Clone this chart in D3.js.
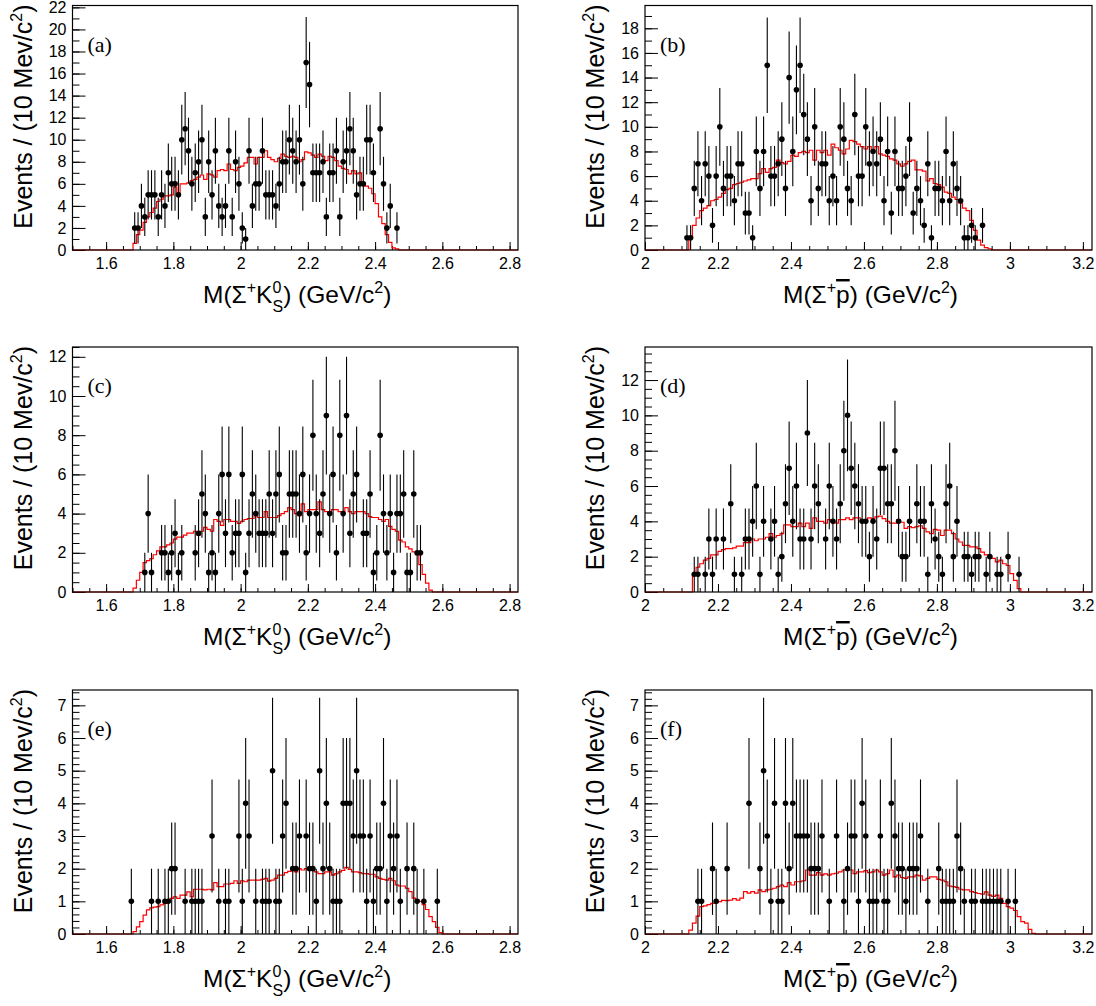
<!DOCTYPE html>
<html><head><meta charset="utf-8">
<script src="https://cdn.jsdelivr.net/npm/d3@7/dist/d3.min.js"></script>
<style>
body{margin:0;background:#fff}
svg{display:block}
</style>
</head><body>
<svg id="chart" width="1096" height="1006"></svg>
<script>
// ---------------- DATA ----------------
const binWidth = 0.01;

// x tick labels
const xTicksKS = [1.6, 1.8, 2.0, 2.2, 2.4, 2.6, 2.8];
const xTicksPP = [2.0, 2.2, 2.4, 2.6, 2.8, 3.0, 3.2];
const xDomainKS = [1.5, 2.825];
const xDomainPP = [2.0, 3.225];
const yTicksA = [0,2,4,6,8,10,12,14,16,18,20,22];
const yTicksB = [0,2,4,6,8,10,12,14,16,18];
const yTicksC = [0,2,4,6,8,10,12];
const yTicksD = [0,2,4,6,8,10,12];
const yTicksE = [0,1,2,3,4,5,6,7];
const yTicksF = [0,1,2,3,4,5,6,7];

// (a) data
const aMass = [1.685,1.695,1.705,1.715,1.725,1.735,1.745,1.755,1.765,1.775,
  1.785,1.795,1.805,1.815,1.825,1.835,1.845,1.855,1.865,1.875,
  1.885,1.895,1.905,1.915,1.925,1.935,1.945,1.955,1.965,1.975,
  1.985,1.995,2.005,2.015,2.025,2.035,2.045,2.055,2.065,2.075,
  2.085,2.095,2.105,2.115,2.125,2.135,2.145,2.155,2.165,2.175,
  2.185,2.195,2.205,2.215,2.225,2.235,2.245,2.255,2.265,2.275,
  2.285,2.295,2.305,2.315,2.325,2.335,2.345,2.355,2.365,2.375,
  2.385,2.395,2.415,2.425,2.435,2.445,2.465];
const aCounts = [2,2,4,3,5,5,5,3,5,4,
  7,6,6,5,10,11,9,6,7,8,
  10,3,8,5,9,4,3,4,9,3,
  8,6,2,1,9,4,6,6,9,5,
  5,5,4,6,8,8,10,9,8,10,
  6,17,15,7,7,7,8,3,7,7,
  9,3,8,9,11,9,5,6,6,10,
  10,7,11,6,2,4,2];
const aMcStart = 1.68;
const aMc = [0.6,1.4,1.8,2.5,3.0,3.4,3.8,4.4,4.6,4.9,
  4.9,5.0,5.7,5.2,6.0,6.0,6.1,6.3,6.4,6.6,
  6.8,6.4,6.9,6.8,6.6,7.2,7.3,7.2,7.8,7.3,
  7.2,7.5,7.6,7.9,8.4,8.4,7.8,8.4,8.4,9.0,
  8.4,8.2,8.0,8.3,8.7,8.5,8.4,8.5,8.4,8.0,
  8.2,8.9,8.8,8.6,8.4,8.7,8.5,8.1,8.5,8.4,
  8.1,7.6,7.4,7.3,6.9,7.2,6.9,7.0,6.1,5.8,
  5.6,5.1,4.2,3.0,2.4,1.4,0.7,0.2,0.1];

// (b) data
const bMass = [2.115,2.125,2.135,2.145,2.155,2.165,2.175,2.185,2.195,2.205,
  2.215,2.225,2.235,2.245,2.255,2.265,2.275,2.285,2.295,2.305,
  2.315,2.325,2.335,2.345,2.355,2.365,2.375,2.385,2.395,2.405,
  2.415,2.425,2.435,2.445,2.455,2.465,2.475,2.485,2.495,2.505,
  2.515,2.525,2.535,2.545,2.555,2.565,2.575,2.585,2.595,2.605,
  2.615,2.625,2.635,2.645,2.655,2.665,2.675,2.685,2.695,2.705,
  2.715,2.725,2.735,2.745,2.755,2.765,2.775,2.785,2.795,2.805,
  2.815,2.825,2.835,2.845,2.855,2.865,2.875,2.885,2.895,2.905,2.925];
const bCounts = [1,1,5,7,4,7,6,2,6,10,
  5,6,6,4,7,7,3,3,1,8,
  5,8,15,6,6,7,9,5,14,8,
  13,15,11,9,4,10,5,7,7,4,
  6,4,10,9,5,4,11,6,6,10,
  7,8,7,9,4,8,3,8,5,5,
  6,9,3,5,4,2,7,1,5,5,
  4,8,4,7,5,4,1,1,2,1,2];
const bMcStart = 2.12;
const bMc = [1.0,2.0,2.6,3.2,3.4,3.6,4.0,4.1,4.3,4.6,
  4.9,5.0,5.3,5.4,5.5,5.6,5.7,5.8,5.8,6.2,
  6.6,6.3,6.6,6.7,7.3,7.1,7.0,7.2,7.7,7.6,
  7.9,8.0,7.9,8.1,7.3,8.1,7.9,8.1,7.7,8.6,
  8.3,8.1,7.8,8.2,8.9,8.8,8.6,8.4,8.2,8.4,
  8.1,8.4,7.8,7.7,7.6,7.4,7.3,7.0,6.8,7.0,
  7.2,7.3,6.5,6.5,6.4,5.6,5.8,5.4,5.3,5.1,
  4.7,4.6,4.3,4.1,3.8,3.4,3.2,2.4,1.6,0.8,
  0.4,0.2,0.1];

// (c) data
const cMass = [1.715,1.725,1.735,1.765,1.775,1.785,1.795,1.805,1.815,1.825,
  1.865,1.875,1.885,1.895,1.905,1.915,1.925,1.935,1.945,1.955,
  1.965,1.975,1.985,1.995,2.005,2.015,2.025,2.035,2.045,2.055,
  2.065,2.075,2.085,2.095,2.105,2.115,2.125,2.135,2.145,2.155,
  2.165,2.175,2.185,2.195,2.205,2.215,2.225,2.235,2.245,2.255,
  2.265,2.275,2.285,2.295,2.305,2.315,2.325,2.335,2.345,2.365,
  2.375,2.385,2.395,2.405,2.415,2.425,2.435,2.445,2.455,2.465,
  2.475,2.485,2.495,2.505,2.515,2.525,2.535];
const cCounts = [1,4,1,2,2,1,2,3,1,2,
  2,3,5,4,1,2,1,4,6,3,
  6,2,3,3,6,1,3,5,4,3,
  3,3,5,3,5,6,2,2,5,5,
  5,4,6,2,4,8,4,3,5,9,
  4,6,2,8,4,9,3,5,6,3,
  3,5,1,2,8,4,2,4,1,4,
  4,5,1,1,5,2,2];
const cMcStart = 1.68;
const cMc = [0.2,0.6,1.0,1.5,1.6,1.7,1.9,2.1,2.3,2.3,
  2.4,2.5,2.7,2.8,2.8,2.9,3.0,3.0,3.1,2.9,
  3.1,3.3,3.2,3.1,3.7,3.6,3.4,3.7,3.7,3.6,
  3.6,3.5,3.6,3.7,3.75,3.75,3.9,3.8,3.8,4.1,
  3.8,3.8,3.8,3.9,4.0,4.1,4.3,4.2,4.0,3.9,
  4.5,4.1,4.2,4.2,4.2,4.6,4.2,4.1,4.0,4.2,
  4.2,4.1,4.1,4.3,4.1,4.0,4.1,4.1,4.1,4.0,
  3.85,3.8,3.8,3.7,3.6,3.7,3.35,3.2,3.1,2.65,
  2.55,2.3,2.2,2.05,1.9,1.4,0.9,0.45,0.1];

// (d) data
const dMass = [2.135,2.145,2.165,2.175,2.185,2.195,2.215,2.235,2.245,2.265,
  2.275,2.285,2.295,2.305,2.315,2.325,2.345,2.355,2.365,2.375,
  2.385,2.395,2.405,2.415,2.425,2.435,2.445,2.455,2.465,2.475,
  2.495,2.505,2.515,2.525,2.535,2.545,2.555,2.565,2.575,2.585,
  2.595,2.605,2.615,2.625,2.635,2.645,2.655,2.665,2.675,2.685,
  2.695,2.705,2.715,2.725,2.745,2.755,2.765,2.775,2.785,2.795,
  2.805,2.815,2.825,2.835,2.845,2.855,2.875,2.885,2.895,2.905,
  2.915,2.935,2.945,2.965,2.975,2.995,3.025];
const dCounts = [1,1,1,3,1,3,3,5,1,1,
  3,3,4,6,1,4,3,4,1,2,
  5,7,4,6,3,3,9,3,6,5,
  3,6,4,3,5,8,10,7,6,5,
  4,4,2,4,3,7,7,5,5,8,
  4,2,2,4,5,4,4,1,5,3,
  2,1,5,6,2,4,2,2,1,2,
  2,1,2,1,1,2,1];
const dMcStart = 2.13;
const dMc = [0.95,1.4,1.6,1.8,1.9,2.1,2.1,2.3,2.4,2.45,
  2.45,2.5,2.6,2.6,2.8,2.8,3.0,2.9,3.0,3.0,
  3.1,3.3,3.1,3.2,3.3,3.8,3.8,3.7,3.7,3.9,
  3.7,3.9,3.6,4.2,4.0,4.0,3.9,4.1,4.0,3.9,
  4.1,4.1,4.2,4.1,4.2,4.2,4.05,4.0,4.2,4.15,
  4.25,4.3,4.15,4.0,3.9,3.9,4.1,3.95,3.6,3.7,
  3.65,3.7,3.75,3.6,3.4,3.3,3.55,3.5,3.2,3.5,
  3.5,3.3,3.0,2.83,2.64,2.64,2.55,2.55,2.45,2.26,
  2.1,2.04,1.9,1.7,1.8,1.6,1.5,1.04,0.66,0.19];

// (e) data
const eMass = [1.675,1.735,1.755,1.775,1.785,1.795,1.805,1.835,1.855,1.865,
  1.875,1.885,1.915,1.935,1.955,1.965,1.995,2.005,2.015,2.025,
  2.045,2.065,2.075,2.085,2.095,2.105,2.115,2.125,2.135,2.155,
  2.165,2.175,2.195,2.205,2.215,2.225,2.235,2.245,2.255,2.265,
  2.275,2.285,2.295,2.305,2.315,2.325,2.335,2.345,2.355,2.365,
  2.375,2.385,2.395,2.405,2.415,2.425,2.435,2.445,2.455,2.465,
  2.475,2.495,2.515,2.525,2.545,2.585];
const eCounts = [1,1,1,1,1,2,2,1,1,1,
  1,1,3,1,1,1,3,1,4,3,
  1,1,1,1,5,1,1,3,4,2,
  2,3,3,2,2,1,5,2,4,2,
  1,1,1,4,4,4,3,5,3,3,
  1,3,1,2,2,4,1,3,2,3,
  1,2,2,1,1,1];
const eMcStart = 1.68;
const eMc = [0.07,0.22,0.38,0.58,0.74,0.8,0.82,0.84,0.89,0.94,
  0.99,1.09,1.14,1.09,1.19,1.19,1.29,1.14,1.37,1.37,
  1.37,1.35,1.37,1.35,1.57,1.45,1.45,1.53,1.53,1.55,
  1.63,1.55,1.63,1.6,1.65,1.65,1.65,1.65,1.67,1.7,
  1.62,1.65,1.7,1.8,1.8,1.88,1.92,1.95,1.9,2.0,
  1.96,2.0,1.96,1.98,1.9,1.85,1.85,1.9,1.9,1.8,
  1.85,1.9,1.95,2.04,1.98,1.9,1.9,1.88,1.85,1.85,
  1.83,1.83,1.75,1.7,1.67,1.65,1.7,1.63,1.5,1.47,
  1.47,1.4,1.3,1.1,1.05,1.0,0.9,0.75,0.53,0.38,
  0.2,0.04];

// (f) data
const fMass = [2.145,2.155,2.185,2.195,2.225,2.285,2.315,2.325,2.335,2.345,
  2.355,2.365,2.375,2.385,2.395,2.405,2.415,2.425,2.435,2.445,
  2.455,2.465,2.475,2.485,2.505,2.525,2.545,2.555,2.565,2.575,
  2.585,2.595,2.605,2.615,2.625,2.635,2.645,2.655,2.665,2.675,
  2.685,2.695,2.705,2.715,2.725,2.735,2.745,2.755,2.775,2.805,
  2.815,2.825,2.835,2.845,2.855,2.865,2.875,2.895,2.905,2.925,
  2.935,2.945,2.955,2.965,2.975,2.995,3.015];
const fCounts = [1,1,2,1,2,4,2,5,3,1,
  4,1,1,4,2,4,3,3,3,3,
  2,2,2,3,1,3,1,2,3,3,
  1,4,3,1,1,1,3,1,1,4,
  3,2,2,1,2,2,2,3,1,2,
  1,1,1,1,3,2,1,1,1,1,
  1,1,1,1,1,1,1];
const fMcStart = 2.12;
const fMc = [0.12,0.33,0.55,0.84,0.86,0.9,0.94,0.96,0.99,1.03,
  1.02,1.04,1.08,1.04,1.1,1.3,1.25,1.3,1.25,1.35,
  1.3,1.35,1.37,1.4,1.45,1.5,1.45,1.57,1.5,1.6,
  1.6,1.63,1.96,1.8,1.8,1.88,1.8,1.84,1.8,1.84,
  1.86,1.9,1.96,1.96,1.96,1.85,1.9,1.9,1.94,1.88,
  1.9,1.96,1.9,1.8,1.85,1.96,1.75,1.8,1.73,1.7,
  1.75,1.75,1.8,1.78,1.65,1.7,1.75,1.75,1.67,1.65,
  1.6,1.47,1.45,1.43,1.37,1.35,1.35,1.3,1.27,1.24,
  1.22,1.29,1.19,1.15,1.19,1.09,0.94,0.84,0.79,0.72,
  0.53,0.38,0.33,0.14,0.02];

const panelLabels = ["(a)","(b)","(c)","(d)","(e)","(f)"];
const yTitle = "Events / (10 Mev/c";

// ---------------- LAYOUT ----------------
const SANS = "'Liberation Sans', Arial, Helvetica, sans-serif";
const SERIF = "'Liberation Serif', 'Times New Roman', serif";
const cols = [{left:72.5, right:518}, {left:645, right:1092}];
const rows = [{top:5.5, bottom:250}, {top:347, bottom:592}, {top:690, bottom:934}];

const panels = [
  {mass:aMass, counts:aCounts, mcStart:aMcStart, mc:aMc, xDom:xDomainKS, xTicks:xTicksKS, yMax:22.17, yTicks:yTicksA, yMinor:1, kind:"ks", c:0, r:0},
  {mass:bMass, counts:bCounts, mcStart:bMcStart, mc:bMc, xDom:xDomainPP, xTicks:xTicksPP, yMax:19.85, yTicks:yTicksB, yMinor:1, kind:"pp", c:1, r:0},
  {mass:cMass, counts:cCounts, mcStart:cMcStart, mc:cMc, xDom:xDomainKS, xTicks:xTicksKS, yMax:12.5, yTicks:yTicksC, yMinor:0.5, kind:"ks", c:0, r:1},
  {mass:dMass, counts:dCounts, mcStart:dMcStart, mc:dMc, xDom:xDomainPP, xTicks:xTicksPP, yMax:13.87, yTicks:yTicksD, yMinor:0.5, kind:"pp", c:1, r:1},
  {mass:eMass, counts:eCounts, mcStart:eMcStart, mc:eMc, xDom:xDomainKS, xTicks:xTicksKS, yMax:7.47, yTicks:yTicksE, yMinor:0.2, kind:"ks", c:0, r:2},
  {mass:fMass, counts:fCounts, mcStart:fMcStart, mc:fMc, xDom:xDomainPP, xTicks:xTicksPP, yMax:7.47, yTicks:yTicksF, yMinor:0.2, kind:"pp", c:1, r:2}
];

const svg = d3.select("#chart");
svg.append("rect").attr("width",1096).attr("height",1006).attr("fill","#fff");

function fmt(v){ return Number.isInteger(v) ? String(v) : String(+v.toFixed(1)); }

panels.forEach((p, i) => {
  const L = cols[p.c].left, R = cols[p.c].right, T = rows[p.r].top, B = rows[p.r].bottom;
  const x = d3.scaleLinear().domain(p.xDom).range([L, R]);
  const y = d3.scaleLinear().domain([0, p.yMax]).range([B, T]);
  const g = svg.append("g");

  // minor x ticks
  const xMinor = d3.range(Math.ceil(p.xDom[0]/0.05 - 1e-6), Math.floor(p.xDom[1]/0.05 + 1e-6)+1).map(k => +(k*0.05).toFixed(3));
  const xMinorAxis = d3.axisBottom(x).tickValues(xMinor).tickSizeInner(-4).tickSizeOuter(0).tickFormat("");
  g.append("g").attr("transform",`translate(0,${B})`).call(xMinorAxis).call(s=>s.select(".domain").remove());
  const xAxis = d3.axisBottom(x).tickValues(p.xTicks).tickSizeInner(-8).tickSizeOuter(0).tickPadding(8).tickFormat(fmt);
  const xa = g.append("g").attr("transform",`translate(0,${B})`).call(xAxis);
  xa.select(".domain").remove();
  xa.attr("font-size",null).attr("font-family",null);
  xa.selectAll("text").style("font-size","16px").style("font-family",SANS).attr("fill","#000");

  // y axis
  const yMinor = d3.range(0, Math.floor(p.yMax/p.yMinor+1e-6)+1).map(k => +(k*p.yMinor).toFixed(3));
  const yMinorAxis = d3.axisLeft(y).tickValues(yMinor).tickSizeInner(-7).tickSizeOuter(0).tickFormat("");
  g.append("g").attr("transform",`translate(${L},0)`).call(yMinorAxis).call(s=>s.select(".domain").remove());
  const yAxis = d3.axisLeft(y).tickValues(p.yTicks).tickSizeInner(-13).tickSizeOuter(0).tickPadding(6).tickFormat(fmt);
  const ya = g.append("g").attr("transform",`translate(${L},0)`).call(yAxis);
  ya.select(".domain").remove();
  ya.attr("font-size",null).attr("font-family",null);
  ya.selectAll("text").style("font-size","16px").style("font-family",SANS).attr("fill","#000");
  g.selectAll(".tick line").attr("stroke","#000").attr("stroke-width",1);

  // MC step histogram
  const pts = [[p.xDom[0],0],[p.mcStart,0]];
  p.mc.forEach((v,k) => { const lo = p.mcStart + k*binWidth; pts.push([lo,v],[lo+binWidth,v]); });
  pts.push([p.mcStart + p.mc.length*binWidth, 0], [p.xDom[1], 0]);
  g.append("path")
    .attr("d", d3.line().x(d=>x(d[0])).y(d=>y(d[1]))(pts))
    .attr("fill","none").attr("stroke","#ff0000").attr("stroke-width",1.2);

  // data points with Poisson error bars
  const data = p.mass.map((m,k) => ({m, n:p.counts[k]}));
  g.selectAll("line.err").data(data).join("line").attr("class","err")
    .attr("x1", d=>x(d.m)).attr("x2", d=>x(d.m))
    .attr("y1", d=>y(Math.max(0,d.n-Math.sqrt(d.n)))).attr("y2", d=>y(d.n+Math.sqrt(d.n)))
    .attr("stroke","#000").attr("stroke-width",1.1);
  g.selectAll("circle.pt").data(data).join("circle").attr("class","pt")
    .attr("cx", d=>x(d.m)).attr("cy", d=>y(d.n)).attr("r",2.8).attr("fill","#000");

  // frame
  g.append("rect").attr("x",L).attr("y",T).attr("width",R-L).attr("height",B-T)
    .attr("fill","none").attr("stroke","#000").attr("stroke-width",1.2);

  // panel label
  g.append("text").attr("x", L+15).attr("y", T+46)
    .style("font-family",SERIF).style("font-size","22px").text(panelLabels[i]);

  // x title
  const xt = g.append("text").attr("x",(L+R)/2 + 2).attr("y",B+53).attr("text-anchor","middle")
    .style("font-family",SANS).style("font-size","24.5px");
  if (p.kind === "ks") {
    xt.append("tspan").text("M(Σ");
    xt.append("tspan").attr("dy",-10).style("font-size","16px").text("+");
    xt.append("tspan").attr("dy",10).text("K");
    xt.append("tspan").attr("dy",-10).style("font-size","16px").text("0");
    xt.append("tspan").attr("dy",19).attr("dx",-8.9).style("font-size","16px").text("S");
    xt.append("tspan").attr("dy",-9).text(") (GeV/c");
    xt.append("tspan").attr("dy",-10).style("font-size","16px").text("2");
    xt.append("tspan").attr("dy",10).text(")");
  } else {
    xt.append("tspan").text("M(Σ");
    xt.append("tspan").attr("dy",-10).style("font-size","16px").text("+");
    xt.append("tspan").attr("dy",10).style("text-decoration","overline").text("p");
    xt.append("tspan").text(") (GeV/c");
    xt.append("tspan").attr("dy",-10).style("font-size","16px").text("2");
    xt.append("tspan").attr("dy",10).text(")");
  }

  // y title
  const yl = g.append("text").attr("transform",`translate(${L-41},${T-1}) rotate(-90)`)
    .attr("text-anchor","end").style("font-family",SANS).style("font-size","25px");
  yl.append("tspan").text(yTitle);
  yl.append("tspan").attr("dy",-10).style("font-size","16px").text("2");
  yl.append("tspan").attr("dy",10).text(")");
});
</script>
</body></html>
